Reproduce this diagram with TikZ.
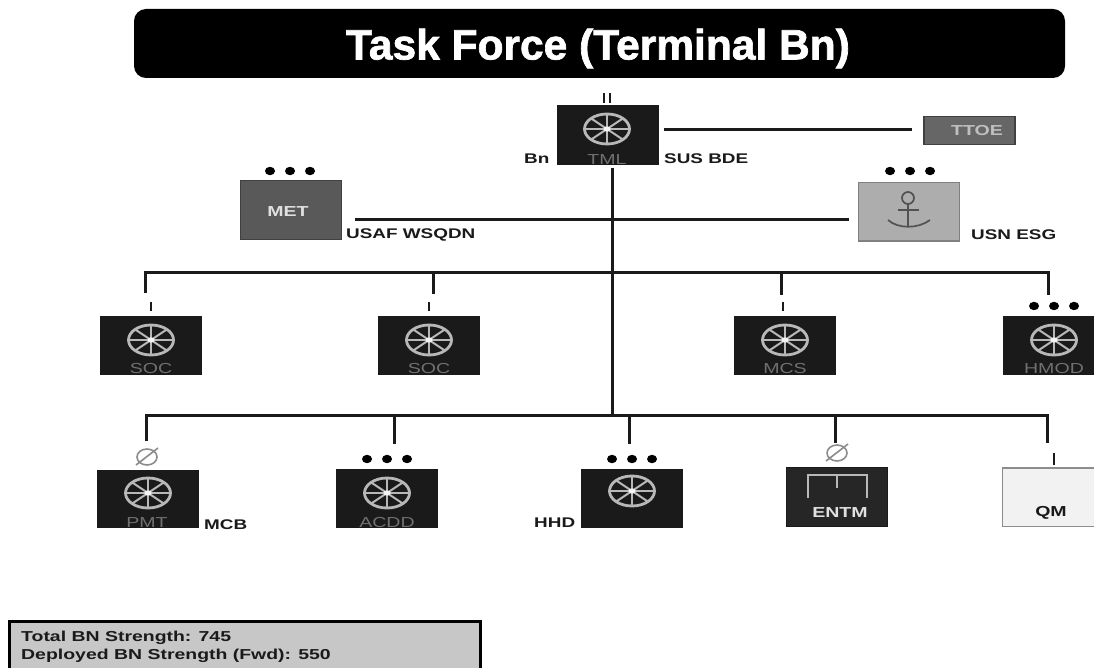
\documentclass[tikz,border=0pt]{standalone}
\usepackage{fontspec}
\setmainfont{Liberation Sans}
\newfontfamily\widef[FakeStretch=1.35]{Liberation Sans}
\newfontfamily\titlef[BoldFeatures={FakeBold=1.6}]{Liberation Sans}
\usetikzlibrary{calc}
\definecolor{ink}{HTML}{1A1A1A}
\definecolor{wheelgrey}{HTML}{B8B8B8}
\definecolor{subgrey}{HTML}{707070}
\definecolor{nullgrey}{HTML}{8C8C8C}
\tikzset{
  x=1pt,y=-1pt,
  unitbox/.style={draw=#1,line width=1pt,minimum width=101pt,minimum height=58.5pt,inner sep=0pt},
  darkbox/.style={unitbox=ink,fill=ink},
  wire/.style={draw=ink,line width=3pt},
  tick/.style={draw=ink,line width=2.8pt},
  lbl/.style={font=\widef\bfseries\fontsize{14}{14}\selectfont,text=ink,inner sep=0pt,anchor=west},
  sublbl/.style={font=\widef\fontsize{14.5}{14.5}\selectfont,text=subgrey,inner sep=0pt},
  inlbl/.style={font=\widef\bfseries\fontsize{14.5}{14.5}\selectfont,inner sep=0pt},
  panellbl/.style={lbl,font=\widef\bfseries\fontsize{14.4}{14.4}\selectfont},
  pics/wheel/.style={code={
    \draw[wheelgrey,line width=2.8pt] (0,0) ellipse [x radius=22.5,y radius=15];
    \foreach \a in {0,45,...,315} \draw[wheelgrey,line width=2pt] (0,0) -- (\a:22.5 and 15);
    \fill[white!85!wheelgrey] (0,0) ellipse [x radius=3.5,y radius=2.6];
  }},
  pics/threedots/.style={code={
    \foreach \d in {-20,0,20} \fill[black] (\d,0) ellipse [x radius=5,y radius=4.2];
  }},
  pics/nullmark/.style={code={
    \draw[nullgrey,line width=1.6pt] (0,0) ellipse [x radius=10,y radius=8];
    \draw[nullgrey,line width=1.6pt] (-11,8) -- (11,-9);
  }},
}
\begin{document}
\begin{tikzpicture}
\useasboundingbox (0,0) rectangle (1094,668);
\clip (0,0) rectangle (1094,668);
\fill[white] (0,0) rectangle (1094,668);

% title
\node[fill=black,rounded corners=12pt,minimum width=931pt,minimum height=69pt,inner sep=0pt] (title) at (599.5,43.5) {};
\node[font=\titlef\bfseries\fontsize{42.5}{42.5}\selectfont,text=white,inner sep=0pt] (titletext) at (598,48.5) {Task Force (Terminal Bn)};

% boxes
\node[darkbox] (tml) at (608,135) {};
\node[unitbox=black!75,fill=black!65] (met) at (291,210) {};
\node[unitbox=black!50,fill=black!32,line width=1.5pt] (usn) at (909,212) {};
\node[unitbox=black!75,fill=black!60,minimum width=91pt,minimum height=28pt,line width=1.5pt] (ttoe) at (969.5,130.5) {};
\node[darkbox] (soca) at (151,345.5) {};
\node[darkbox] (socb) at (429,345.5) {};
\node[darkbox] (mcs) at (785,345.5) {};
\node[darkbox] (hmod) at (1054,345.5) {};
\node[darkbox,minimum height=57.5pt] (pmt) at (147.5,499) {};
\node[darkbox] (acdd) at (387,498.5) {};
\node[darkbox] (hhd) at (632,498.5) {};
\node[unitbox=ink,fill=black!85] (entm) at (837,497) {};
\node[unitbox=black!45,fill=black!5,line width=1.5pt] (qm) at (1053,497) {};

% junctions and free ends
\coordinate (tmlout) at (612,168);
\coordinate (huba) at (612,272);
\coordinate (hubb) at (612,415);
\coordinate (ttoel) at (664,130);
\coordinate (ttoer) at (912,130);
\coordinate (metr) at (355,220);
\coordinate (usnl) at (849,220);
\coordinate (a1) at (145,272); \coordinate (a1e) at (145,293);
\coordinate (a2) at (433,272); \coordinate (a2e) at (433,294);
\coordinate (a3) at (781,272); \coordinate (a3e) at (781,295);
\coordinate (a4) at (1048,272); \coordinate (a4e) at (1048,295);
\coordinate (b1) at (146,415); \coordinate (b1e) at (146,441);
\coordinate (b2) at (394,415); \coordinate (b2e) at (394,444);
\coordinate (b3) at (629,415); \coordinate (b3e) at (629,444);
\coordinate (b4) at (835,415); \coordinate (b4e) at (835,443);
\coordinate (b5) at (1047,415); \coordinate (b5e) at (1047,443);

% connectors
\draw[wire] (tmlout) -- (hubb);
\draw[wire] (ttoel) -- (ttoer);
\draw[wire] (metr) -- (usnl);
\draw[wire,line join=miter] (a1e) -- (a1) -- (a4) -- (a4e);
\draw[wire] (a2) -- (a2e);
\draw[wire] (a3) -- (a3e);
\draw[wire,line join=miter] (b1e) -- (b1) -- (b5) -- (b5e);
\draw[wire] (b2) -- (b2e);
\draw[wire] (b3) -- (b3e);
\draw[wire] (b4) -- (b4e);

% echelon marks
\draw[tick] (604,93) -- (604,103);
\draw[tick] (610,93) -- (610,103);
\draw[tick] (151,302) -- (151,311);
\draw[tick] (429,302) -- (429,311);
\draw[tick] (783,302) -- (783,311);
\draw[tick] (1054,453) -- (1054,465);
\pic at (290,171) {threedots};
\pic at (910,171) {threedots};
\pic at (1054,306) {threedots};
\pic at (387,459) {threedots};
\pic at (632,459) {threedots};
\pic at (147,457) {nullmark};
\pic at (837,453) {nullmark};

% wheels
\pic at (607,129) {wheel};
\pic at (151,340) {wheel};
\pic at (429,340) {wheel};
\pic at (785,340) {wheel};
\pic at (1054,340) {wheel};
\pic at (148,493) {wheel};
\pic at (387,493) {wheel};
\pic at (632,491) {wheel};

% anchor
\begin{scope}[draw=black!68,line width=1.7pt]
\draw (908,198) circle [radius=6];
\draw (908,204) -- (908,227);
\draw (898,210) -- (919,210);
\draw (888,220) .. controls (898,229) and (918,229) .. (930,220);
\end{scope}

% engineer bracket
\draw[wheelgrey,line width=2pt] (808,498) -- (808,475) -- (867,475) -- (867,498);
\draw[wheelgrey,line width=2pt] (837,475) -- (837,488);

% labels in the boxes
\node[sublbl] (ltml) at (607,160) {TML};
\node[sublbl] (lsoca) at (151,369) {SOC};
\node[sublbl] (lsocb) at (429,369) {SOC};
\node[sublbl] (lmcs) at (785,369) {MCS};
\node[sublbl] (lhmod) at (1054,369) {HMOD};
\node[sublbl] (lpmt) at (147,523) {PMT};
\node[sublbl] (lacdd) at (387,523) {ACDD};
\node[inlbl,text=black!12] (lmet) at (288,212) {MET};
\node[inlbl,text=black!25] (lttoe) at (977,131) {TTOE};
\node[inlbl,text=black!12] (lentm) at (840,513) {ENTM};
\node[inlbl,text=ink] (lqm) at (1051,513) {QM};

% labels beside the boxes
\node[lbl] (bn) at (524,159) {Bn};
\node[lbl] (sus) at (664,159) {SUS BDE};
\node[lbl] (usaf) at (346,235) {USAF WSQDN};
\node[lbl] (usnesg) at (971,235) {USN ESG};
\node[lbl] (mcb) at (204,525) {MCB};
\node[lbl] (hhdl) at (534,523) {HHD};

% strength panel
\node[draw=black,line width=2.5pt,fill=black!22,anchor=north west,minimum width=471pt,minimum height=80pt,inner sep=0pt] (panel) at (8,620) {};
\node[panellbl] (ptotal) at (21,638) {Total BN Strength: 745};
\node[panellbl] (pdep) at (21,656) {Deployed BN Strength (Fwd): 550};
\end{tikzpicture}
\end{document}
